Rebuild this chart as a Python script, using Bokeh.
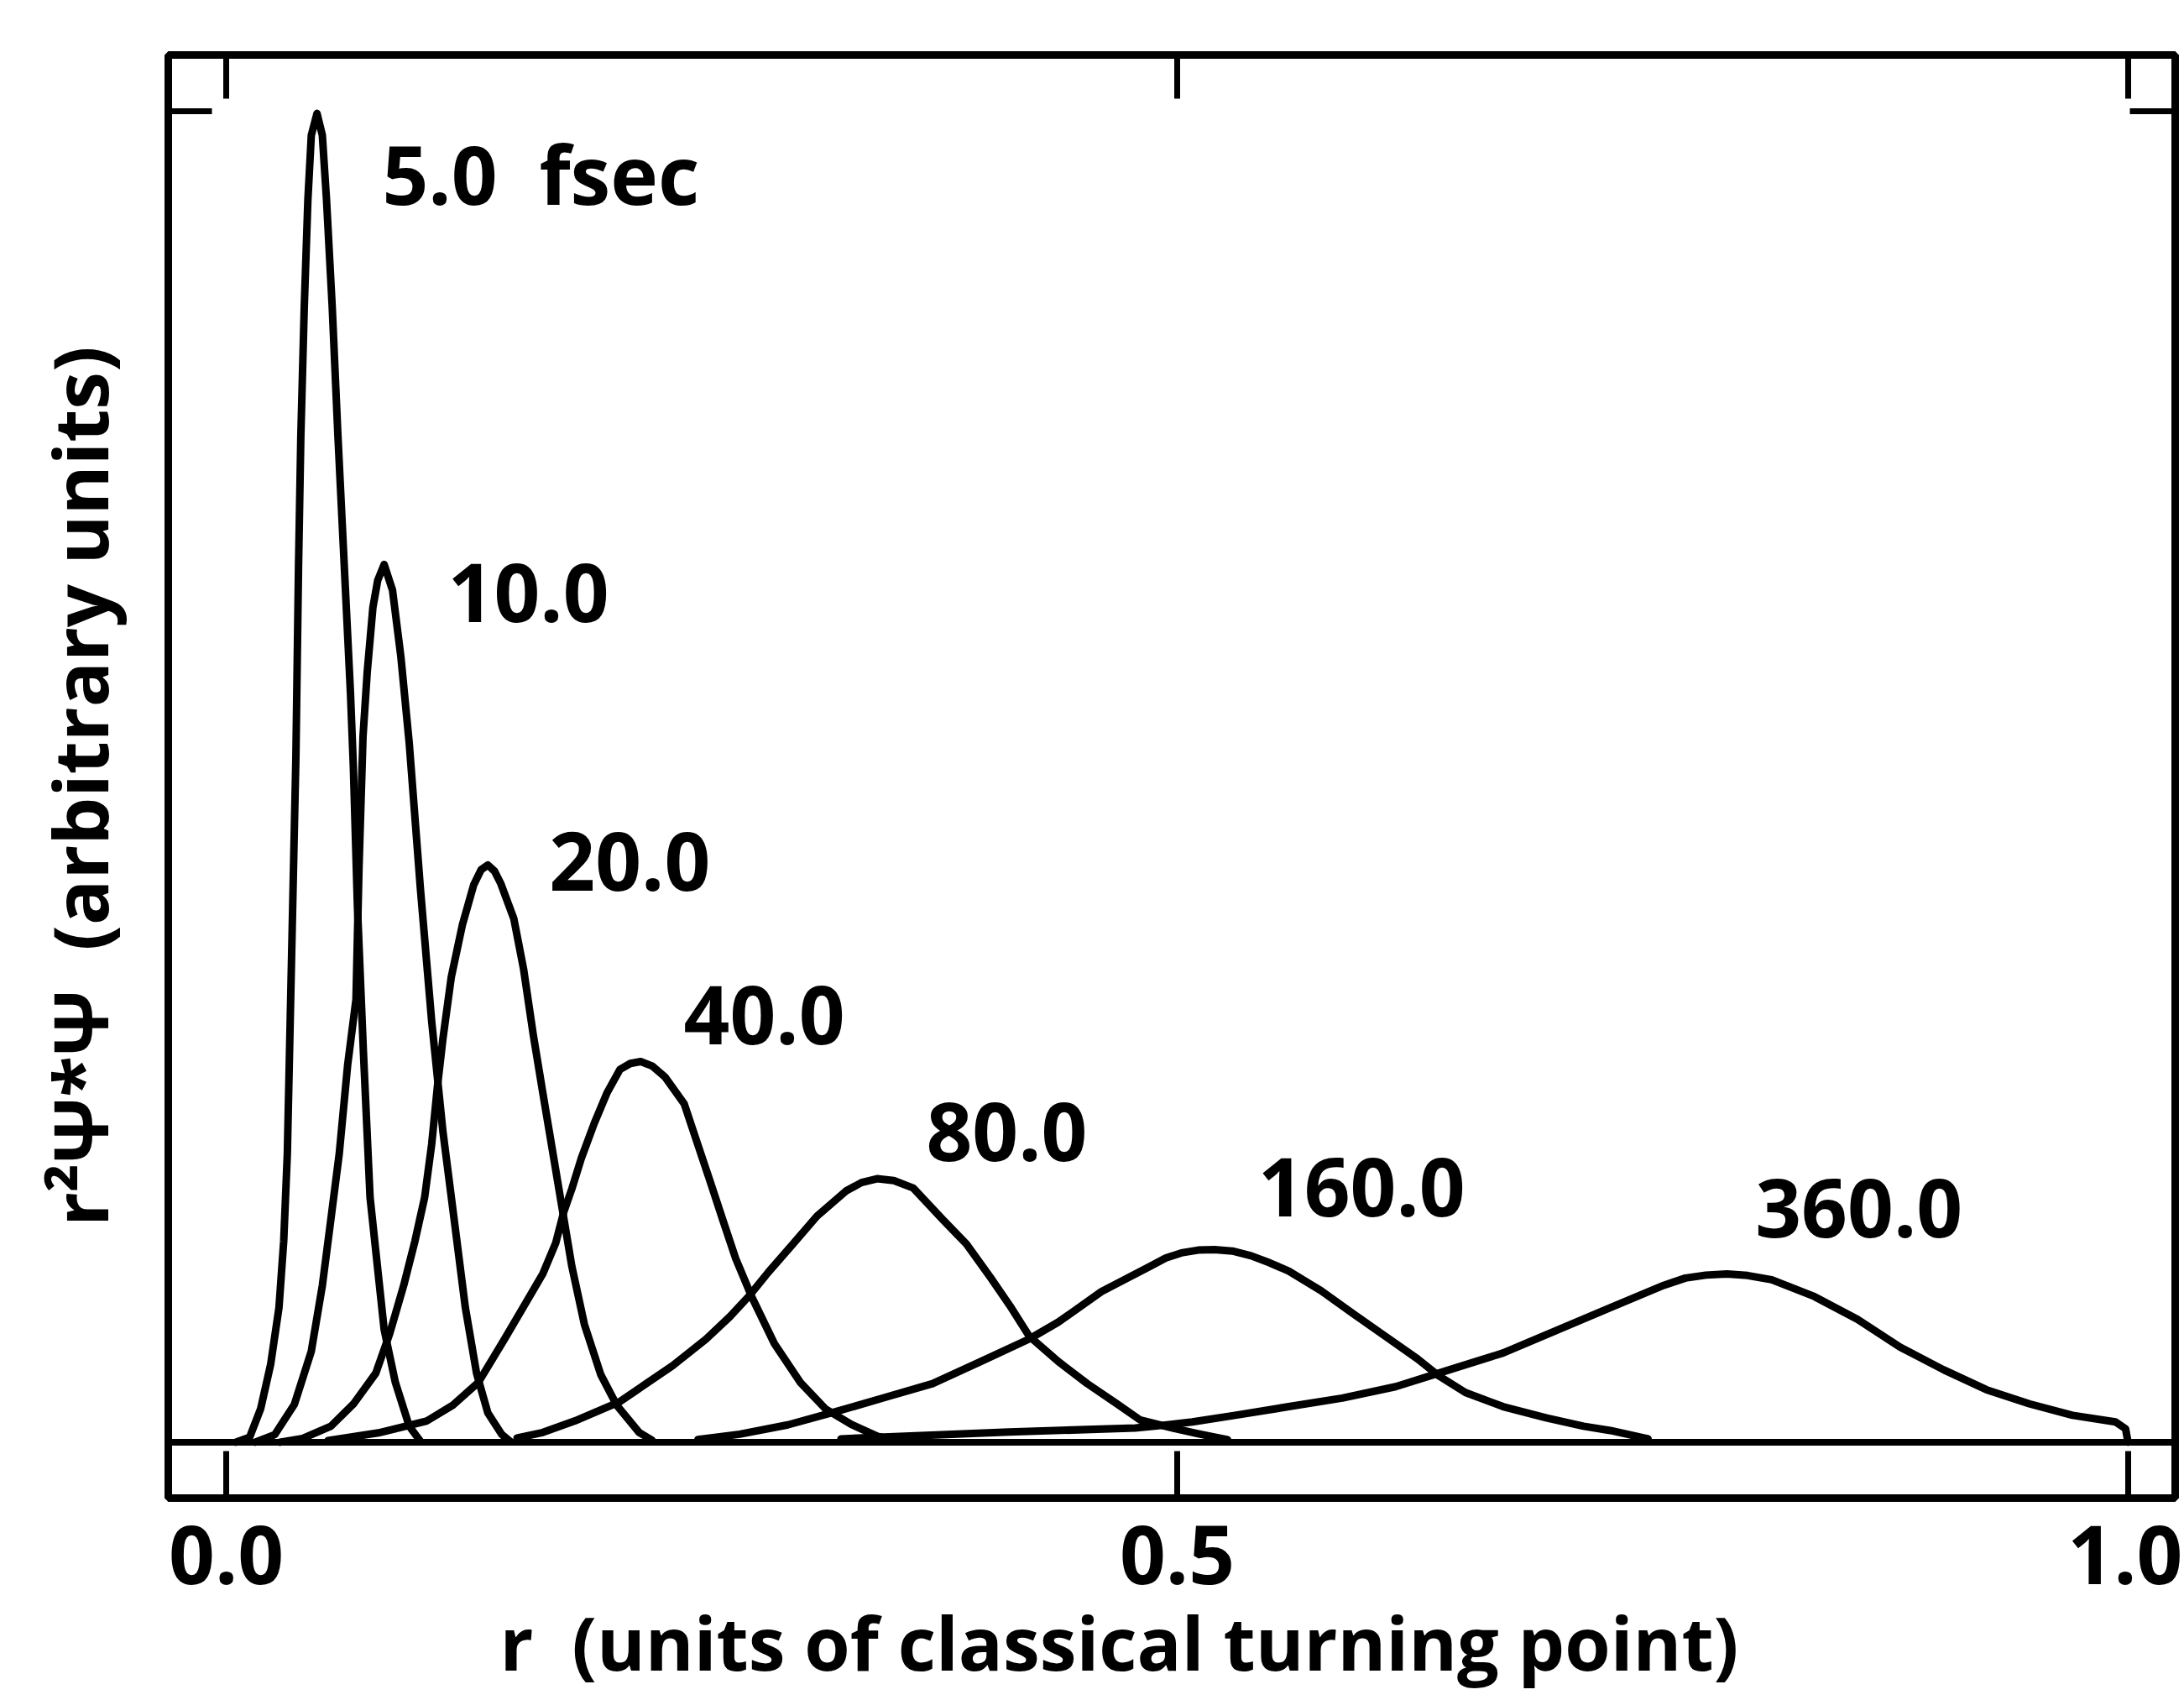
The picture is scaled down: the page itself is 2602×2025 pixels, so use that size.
import math
from bokeh.plotting import figure
from bokeh.models import (Range1d, FixedTicker, LinearAxis, PrintfTickFormatter,
                          Span, Title, ColumnDataSource)
from bokeh.core.properties import value
from bokeh.embed import file_html
from bokeh.resources import INLINE

# ---- data (r in units of classical turning point, r^2 Psi*Psi arbitrary) ----
r_5 = [0.005, 0.0123, 0.0181, 0.0233, 0.0277, 0.0302, 0.0321, 0.0336, 0.0351, 0.0366, 0.0380, 0.0392,
       0.0410, 0.0429, 0.0447, 0.0477, 0.0505, 0.0527, 0.0557, 0.0587, 0.0609, 0.0631, 0.0653, 0.0668,
       0.0690, 0.0721, 0.0756, 0.0830, 0.0889, 0.0962, 0.1021]
p_5 = [0.0, 0.0038, 0.0253, 0.0582, 0.1011, 0.1511, 0.2168, 0.3161, 0.4153, 0.5145, 0.6593, 0.7560,
       0.8527, 0.9330, 0.9817, 0.9981, 0.9817, 0.9333, 0.8527, 0.7560, 0.6915, 0.6271, 0.5626, 0.5082,
       0.4008, 0.2933, 0.1839, 0.0847, 0.0449, 0.0120, 0.0006]

r_10 = [0.0152, 0.0255, 0.0358, 0.0447, 0.0505, 0.0550, 0.0594, 0.0638, 0.0682, 0.0698, 0.0719, 0.0741,
        0.0771, 0.0796, 0.0830, 0.0874, 0.0918, 0.0962, 0.1021, 0.1080, 0.1139, 0.1198, 0.1257,
        0.1316, 0.1375, 0.1449, 0.1493]
p_10 = [0.0, 0.0057, 0.0284, 0.0683, 0.1176, 0.1675, 0.2168, 0.2832, 0.3325, 0.4324, 0.5303, 0.5784,
        0.6271, 0.6473, 0.6593, 0.6400, 0.5900, 0.5250, 0.4153, 0.3161, 0.2335, 0.1675, 0.1011,
        0.0518, 0.0221, 0.0057, 0.0006]

r_20 = [0.0283, 0.0402, 0.0550, 0.0668, 0.0786, 0.0859, 0.0933, 0.0992, 0.1043, 0.1080, 0.1110, 0.1139,
        0.1183, 0.1242, 0.1301, 0.1340, 0.1375, 0.1410, 0.1444, 0.1512, 0.1563, 0.1614, 0.1664, 0.1715,
        0.1766, 0.1817, 0.1883, 0.1969, 0.2053, 0.2171, 0.2239]
p_20 = [0.0, 0.0028, 0.0120, 0.0286, 0.0518, 0.0815, 0.1178, 0.1511, 0.1839, 0.2238, 0.2668, 0.3030,
        0.3493, 0.3889, 0.4186, 0.4300, 0.4336, 0.4290, 0.4194, 0.3932, 0.3556, 0.3062, 0.2627, 0.2193,
        0.1757, 0.1321, 0.0885, 0.0508, 0.0278, 0.0073, 0.0015]

r_40 = [0.0535, 0.0800, 0.1055, 0.1191, 0.1326, 0.1461, 0.1580, 0.1664, 0.1732, 0.1774, 0.1817, 0.1867,
        0.1935, 0.2003, 0.2070, 0.2125, 0.2179, 0.2240, 0.2307, 0.2408, 0.2476, 0.2544, 0.2611, 0.2679,
        0.2764, 0.2882, 0.3018, 0.3153, 0.3288, 0.3424, 0.3525]
p_40 = [0.0013, 0.0070, 0.0160, 0.0278, 0.0450, 0.0769, 0.1059, 0.1264, 0.1495, 0.1727, 0.1903, 0.2133,
        0.2396, 0.2627, 0.2800, 0.2845, 0.2859, 0.2825, 0.2743, 0.2541, 0.2250, 0.1960, 0.1669, 0.1378,
        0.1089, 0.0740, 0.0450, 0.0247, 0.0133, 0.0044, 0.0015]

r_80 = [0.1529, 0.1664, 0.1833, 0.2070, 0.2347, 0.2522, 0.2648, 0.2750, 0.2851, 0.2979, 0.3106, 0.3258,
        0.3340, 0.3422, 0.3510, 0.3612, 0.3765, 0.3892, 0.4019, 0.4120, 0.4222, 0.4374, 0.4527, 0.4679,
        0.4805, 0.4982, 0.5111, 0.5265]
p_80 = [0.0032, 0.0073, 0.0160, 0.0305, 0.0575, 0.0774, 0.0943, 0.1100, 0.1278, 0.1488, 0.1698, 0.1886,
        0.1950, 0.1979, 0.1965, 0.1909, 0.1676, 0.1488, 0.1236, 0.1026, 0.0796, 0.0607, 0.0440, 0.0293,
        0.0167, 0.0104, 0.0063, 0.0019]

r_160 = [0.2480, 0.2700, 0.2953, 0.3207, 0.3461, 0.3714, 0.3969, 0.4222, 0.4374, 0.4602, 0.4857, 0.4940,
         0.5022, 0.5110, 0.5195, 0.5290, 0.5389, 0.5487, 0.5587, 0.5756, 0.5924, 0.6094, 0.6263, 0.6375,
         0.6516, 0.6714, 0.6940, 0.7137, 0.7277, 0.7476]
p_160 = [0.0020, 0.0060, 0.0130, 0.0230, 0.0335, 0.0440, 0.0607, 0.0775, 0.0901, 0.1131, 0.1321, 0.1383,
         0.1422, 0.1443, 0.1447, 0.1436, 0.1400, 0.1347, 0.1285, 0.1138, 0.0967, 0.0796, 0.0627, 0.0499,
         0.0373, 0.0267, 0.0183, 0.0120, 0.0088, 0.0025]

r_360 = [0.3232, 0.4116, 0.4779, 0.4881, 0.5080, 0.5305, 0.5587, 0.5868, 0.6149, 0.6432, 0.6714, 0.6996,
         0.7278, 0.7560, 0.7673, 0.7780, 0.7891, 0.8000, 0.8126, 0.8351, 0.8577, 0.8802, 0.9030, 0.9256,
         0.9482, 0.9708, 0.9934, 0.9987, 1.0]
p_360 = [0.0025, 0.0076, 0.0107, 0.0120, 0.0152, 0.0202, 0.0267, 0.0331, 0.0417, 0.0544, 0.0670, 0.0841,
         0.1011, 0.1179, 0.1233, 0.1255, 0.1264, 0.1252, 0.1220, 0.1094, 0.0923, 0.0714, 0.0544, 0.0394,
         0.0288, 0.0202, 0.0152, 0.0101, 0.0]

curve_labels = ["5.0\u00a0\u00a0fsec", "10.0", "20.0", "40.0", "80.0", "160.0", "360.0"]
label_r = [0.0820, 0.1165, 0.1698, 0.2405, 0.3680, 0.5425, 0.8040]
label_p = [0.9528, 0.6380, 0.4364, 0.3207, 0.2335, 0.1918, 0.1760]

x_ticks = [0.0, 0.5, 1.0]
y_ticks = [1.0]
x_title = "r\u00a0\u00a0(units of classical turning point)"
y_title = "r²Ψ*Ψ\u00a0\u00a0(arbitrary units)\u00a0"

FONT = "Open Sans"
FS = "96px"

p = figure(width=2600, height=2024, output_backend="svg", toolbar_location=None,
           x_range=Range1d(-0.0305, 1.0248), y_range=Range1d(-0.042, 1.042),
           min_border_left=200, min_border_right=9, min_border_top=65, min_border_bottom=240,
           x_axis_location=None, y_axis_location=None)
p.grid.visible = False
p.outline_line_color = "black"
p.outline_line_width = 9
p.background_fill_color = "white"
p.border_fill_color = "white"

def mk_axis(ticks, tick_in, show_labels):
    ax = LinearAxis(ticker=FixedTicker(ticks=ticks), axis_line_color=None,
                    major_tick_in=tick_in, major_tick_out=0, minor_tick_line_color=None,
                    major_tick_line_width=7, major_tick_line_color="black",
                    formatter=PrintfTickFormatter(format="%.1f"))
    if show_labels:
        ax.major_label_text_font = FONT
        ax.major_label_text_font_size = FS
        ax.major_label_text_font_style = "bold"
        ax.major_label_text_color = "black"
        ax.major_label_standoff = 32
    else:
        ax.major_label_text_color = None
        ax.major_label_text_font_size = "0px"
        ax.major_label_standoff = 0
    return ax

p.add_layout(mk_axis(x_ticks, 56, True), "below")
p.add_layout(mk_axis(x_ticks, 52, False), "above")
yax = mk_axis(y_ticks, 52, False)
yax.axis_label = y_title
yax.axis_label_text_font = FONT
yax.axis_label_text_font_size = "90px"
yax.axis_label_text_font_style = "bold"
yax.axis_label_text_color = "black"
yax.axis_label_standoff = 46
p.add_layout(yax, "left")
p.add_layout(mk_axis(y_ticks, 54, False), "right")

p.add_layout(Title(text=x_title, align="left", offset=395, text_font=FONT, text_font_size="88px",
                   text_font_style="bold", text_color="black", standoff=8), "below")

p.add_layout(Span(location=0, dimension="width", line_color="black", line_width=8))

for rr, pp in [(r_5, p_5), (r_10, p_10), (r_20, p_20), (r_40, p_40),
               (r_80, p_80), (r_160, p_160), (r_360, p_360)]:
    p.line(rr, pp, line_color="black", line_width=9, line_join="round", line_cap="round")

src = ColumnDataSource(dict(x=label_r, y=label_p, t=curve_labels))
p.text(x="x", y="y", text="t", source=src, text_font=value(FONT), text_font_size=FS,
       text_font_style="bold", text_color="black", text_baseline="alphabetic", text_align="left")

open("out.html", "w").write(file_html(p, INLINE))
